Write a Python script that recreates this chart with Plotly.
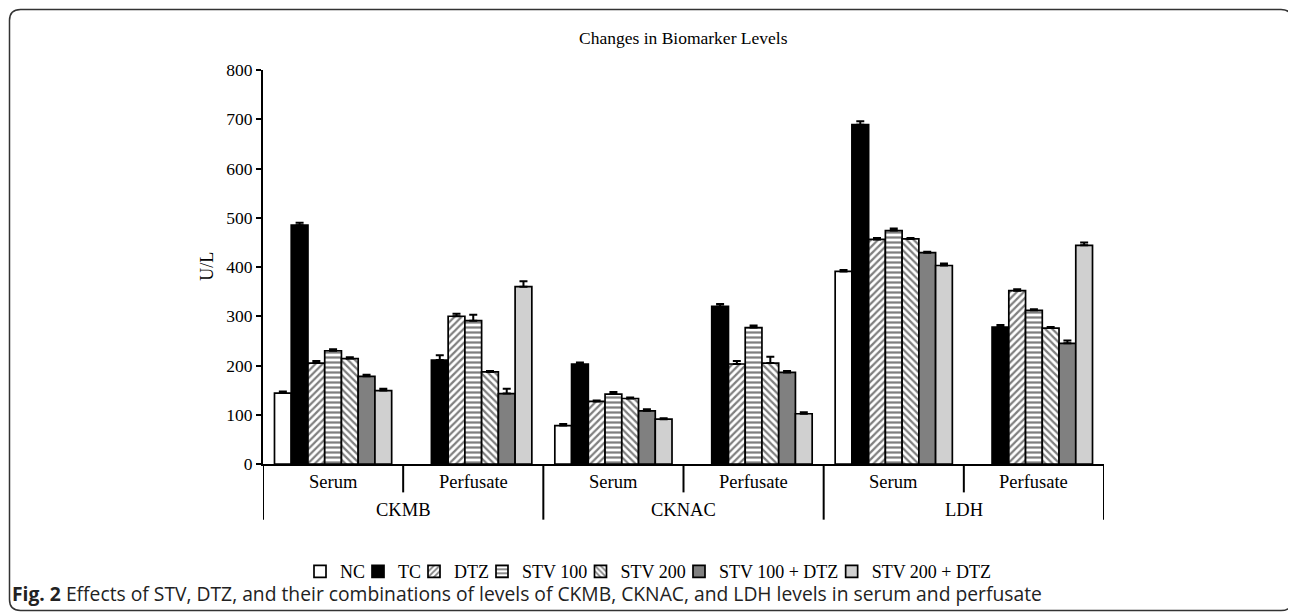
import plotly.graph_objects as go

categories = ["CKMB|Serum", "CKMB|Perfusate", "CKNAC|Serum", "CKNAC|Perfusate", "LDH|Serum", "LDH|Perfusate"]
sample_labels = ["Serum", "Perfusate", "Serum", "Perfusate", "Serum", "Perfusate"]
biomarkers = ["CKMB", "CKNAC", "LDH"]
y_ticks = [0, 100, 200, 300, 400, 500, 600, 700, 800]

groups = ["NC", "TC", "DTZ", "STV 100", "STV 200", "STV 100 + DTZ", "STV 200 + DTZ"]

nc = [144, None, 78, None, 391, None]
tc = [485, 211, 203, 320, 689, 278]
dtz = [205, 300, 127, 203, 456, 352]
stv100 = [230, 291, 142, 277, 474, 312]
stv200 = [214, 187, 133, 205, 457, 276]
stv100_dtz = [178, 143, 108, 186, 429, 245]
stv200_dtz = [149, 360, 91, 102, 403, 444]

nc_err = [3, 0, 3, 0, 3, 0]
tc_err = [5, 10, 3, 5, 7, 4]
dtz_err = [4, 5, 2, 6, 3, 3]
stv100_err = [3, 12, 4, 4, 4, 2]
stv200_err = [3, 2, 2, 13, 2, 2]
stv100_dtz_err = [3, 10, 3, 3, 2, 6]
stv200_dtz_err = [4, 11, 2, 3, 4, 6]

values = [nc, tc, dtz, stv100, stv200, stv100_dtz, stv200_dtz]
errors = [nc_err, tc_err, dtz_err, stv100_err, stv200_err, stv100_dtz_err, stv200_dtz_err]
fills = ["white", "black", "white", "white", "white", "#808080", "#d0d0d0"]
patterns = ["", "", "/", "-", "\\", "", ""]

# The page body has an 8px margin, so the figure starts at (8, 8) in the window.
OFF = 8
W, H = 1296 - OFF, 613 - OFF
# plot area in window pixels
L, R, T, B = 263, 1104, 70, 464.3
def px(x):
    return (x - L) / (R - L)
def py(y):
    return (B - y) / (B - T)

ser = "Liberation Serif"
LEG_SIZE = 18
# approximate Times advance widths (1/1000 em) to lay out compact legend entries
_adv = {"N": 722, "C": 667, "T": 611, "D": 722, "Z": 611, "S": 556, "V": 722,
        " ": 250, "0": 500, "1": 500, "2": 500, "+": 564}
def text_w(s):
    return sum(_adv.get(ch, 500) for ch in s) * LEG_SIZE / 1000.0

fig = go.Figure()
leg_layout = {}
left = 300.0  # window px of first legend box
for i, (name, v, e, f, p) in enumerate(zip(groups, values, errors, fills, patterns)):
    marker = dict(color=f, line=dict(color="black", width=1.7))
    if p:
        marker["pattern"] = dict(shape=p, fgcolor="black", bgcolor="white", size=5, solidity=0.45)
    lname = "legend" if i == 0 else f"legend{i + 1}"
    fig.add_trace(go.Bar(
        name=name, x=categories, y=v, marker=marker, legend=lname,
        error_y=dict(type="data", symmetric=False, array=e, arrayminus=[0] * len(e),
                     color="black", thickness=2, width=4),
    ))
    leg_layout[lname] = dict(orientation="h", x=px(left), y=py(572), xanchor="left", yanchor="middle",
                             font=dict(family=ser, size=LEG_SIZE), itemwidth=30,
                             bgcolor="rgba(0,0,0,0)", borderwidth=0)
    left += 33 + text_w(name)

fig.update_layout(
    width=W, height=H, barmode="group", bargap=0.164, bargroupgap=0,
    paper_bgcolor="white", plot_bgcolor="white",
    margin=dict(l=L - OFF, r=1296 - R, t=T - OFF, b=613 - B, autoexpand=False),
    font=dict(family=ser, size=18, color="black"),
    showlegend=True,
    **leg_layout,
)
fig.update_xaxes(showticklabels=False, ticks="", showline=True, linecolor="black", linewidth=2,
                 range=[-0.5, 5.5], showgrid=False, zeroline=False)
fig.update_yaxes(range=[0, 800], tickvals=y_ticks, ticks="outside", ticklen=5, tickwidth=2,
                 tickcolor="black", showline=True, linecolor="black", linewidth=2,
                 showgrid=False, zeroline=False, tickfont=dict(family=ser, size=17.5))

ann = []
ann.append(dict(text="Changes in Biomarker Levels", x=px(683.5), y=py(38), xref="paper", yref="paper",
                showarrow=False, font=dict(family=ser, size=17.5), xanchor="center", yanchor="middle"))
ann.append(dict(text="U/L", x=px(207), y=py(267), xref="paper", yref="paper", textangle=-90,
                showarrow=False, font=dict(family=ser, size=18), xanchor="center", yanchor="middle"))
for i, s in enumerate(sample_labels):
    ann.append(dict(text=s, x=i, y=py(482), xref="x", yref="paper", showarrow=False,
                    font=dict(family=ser, size=18.5), xanchor="center", yanchor="middle"))
for j, b in enumerate(biomarkers):
    ann.append(dict(text=b, x=2 * j + 0.5, y=py(510), xref="x", yref="paper", showarrow=False,
                    font=dict(family=ser, size=18.5), xanchor="center", yanchor="middle"))
ann.append(dict(text="<b>Fig. 2</b> Effects of STV, DTZ, and their combinations of levels of CKMB, CKNAC, and LDH levels in serum and perfusate",
                x=px(10), y=py(594), xref="paper", yref="paper", showarrow=False,
                font=dict(family="Open Sans", size=19.3, color="#222222"), xanchor="left", yanchor="middle"))
fig.update_layout(annotations=ann)

shapes = []
for j in range(3):
    shapes.append(dict(type="line", xref="x", yref="paper", x0=2 * j + 0.5, x1=2 * j + 0.5,
                       y0=0, y1=py(492.7), line=dict(color="black", width=2)))
for k in range(4):
    shapes.append(dict(type="line", xref="x", yref="paper", x0=2 * k - 0.5, x1=2 * k - 0.5,
                       y0=0, y1=py(520), line=dict(color="black", width=2)))
# rounded outer frame (window pixel coordinates)
x0, x1, y0, y1, r = 9.5, 1292, 9.5, 611, 11
path = (f"M {px(x0 + r)},{py(y0)} L {px(x1 - r)},{py(y0)} Q {px(x1)},{py(y0)} {px(x1)},{py(y0 + r)} "
        f"L {px(x1)},{py(y1 - r)} Q {px(x1)},{py(y1)} {px(x1 - r)},{py(y1)} "
        f"L {px(x0 + r)},{py(y1)} Q {px(x0)},{py(y1)} {px(x0)},{py(y1 - r)} "
        f"L {px(x0)},{py(y0 + r)} Q {px(x0)},{py(y0)} {px(x0 + r)},{py(y0)} Z")
shapes.append(dict(type="path", xref="paper", yref="paper", path=path, line=dict(color="#333333", width=1.5)))
fig.update_layout(shapes=shapes)

fig.write_html("out.html")
